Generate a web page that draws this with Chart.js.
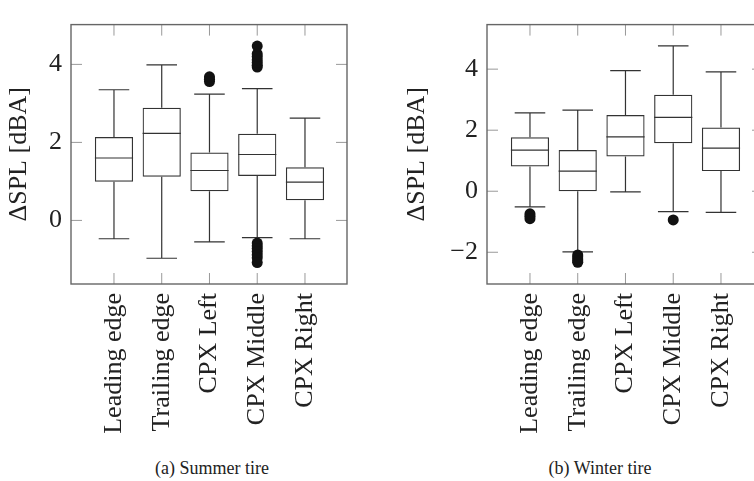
<!DOCTYPE html>
<html>
<head>
<meta charset="utf-8">
<script src="https://cdn.jsdelivr.net/npm/chart.js@4.4.1/dist/chart.umd.min.js"></script>
<style>
  html, body { margin: 0; padding: 0; background: #fff; width: 754px; height: 481px; overflow: hidden; }
  #wrapA { position: absolute; left: 0; top: 0; }
  #wrapB { position: absolute; left: 380px; top: 0; }
  .caption { position: absolute; top: 458px; font-family: "Liberation Serif", serif; font-size: 18px; color: #222; transform: translateX(-50%); white-space: nowrap; }
</style>
</head>
<body>
<div id="wrapA"><canvas id="chartA" width="360" height="450"></canvas></div>
<div id="wrapB"><canvas id="chartB" width="400" height="450"></canvas></div>
<div class="caption" style="left:212px">(a) Summer tire</div>
<div class="caption" style="left:600px">(b) Winter tire</div>
<script>
// categories
const categories = ['Leading edge', 'Trailing edge', 'CPX Left', 'CPX Middle', 'CPX Right'];

// summer tire (a)
const summerMin = [-0.47, -0.97, -0.55, -0.44, -0.47];
const summerQ1  = [0.99, 1.12, 0.75, 1.14, 0.52];
const summerMed = [1.60, 2.23, 1.28, 1.69, 0.98];
const summerQ3  = [2.14, 2.89, 1.74, 2.22, 1.36];
const summerMax = [3.35, 3.99, 3.24, 3.38, 2.62];
const summerOutliers = [
  [],
  [],
  [3.56, 3.62, 3.68],
  [3.93, 3.98, 4.05, 4.12, 4.20, 4.27, 4.47, -0.58, -0.65, -0.72, -0.80, -0.88, -0.96, -1.08],
  []
];
const summerTicks = [0, 2, 4];

// winter tire (b)
const winterMin = [-0.51, -1.99, -0.02, -0.67, -0.69];
const winterQ1  = [0.81, 0.00, 1.14, 1.57, 0.66];
const winterMed = [1.35, 0.66, 1.78, 2.42, 1.41];
const winterQ3  = [1.77, 1.35, 2.50, 3.16, 2.09];
const winterMax = [2.57, 2.66, 3.95, 4.76, 3.91];
const winterOutliers = [
  [-0.74, -0.82, -0.90],
  [-2.09, -2.15, -2.22, -2.28, -2.33],
  [],
  [-0.94],
  []
];
const winterTicks = [-2, 0, 2, 4];

const serif = "'Liberation Serif', 'Times New Roman', serif";

// whiskers, medians, frame and inward ticks
const boxExtras = {
  id: 'boxExtras',
  beforeDatasetsDraw(chart, args, opts) {
    const {ctx, scales: {y}} = chart;
    const bars = chart.getDatasetMeta(0).data;
    const s = opts.stats;
    ctx.save();
    ctx.strokeStyle = '#333';
    ctx.lineWidth = 1.2;
    ctx.beginPath();
    bars.forEach((bar, i) => {
      const half = bar.width * 0.4;
      const yMax = y.getPixelForValue(s.max[i]);
      const yMin = y.getPixelForValue(s.min[i]);
      ctx.moveTo(bar.x, y.getPixelForValue(s.q3[i]));
      ctx.lineTo(bar.x, yMax);
      ctx.moveTo(bar.x - half, yMax);
      ctx.lineTo(bar.x + half, yMax);
      ctx.moveTo(bar.x, y.getPixelForValue(s.q1[i]));
      ctx.lineTo(bar.x, yMin);
      ctx.moveTo(bar.x - half, yMin);
      ctx.lineTo(bar.x + half, yMin);
    });
    ctx.stroke();
    ctx.restore();
  },
  afterDatasetsDraw(chart, args, opts) {
    const {ctx, chartArea: a, scales: {x, y}} = chart;
    const bars = chart.getDatasetMeta(0).data;
    const s = opts.stats;
    ctx.save();
    ctx.strokeStyle = '#333';
    ctx.lineWidth = 1.2;
    ctx.beginPath();
    bars.forEach((bar, i) => {
      const ym = y.getPixelForValue(s.med[i]);
      ctx.moveTo(bar.x - bar.width / 2, ym);
      ctx.lineTo(bar.x + bar.width / 2, ym);
    });
    ctx.stroke();

    // inward ticks
    const tl = 11;
    ctx.strokeStyle = '#999';
    ctx.lineWidth = 1;
    ctx.beginPath();
    y.ticks.forEach(t => {
      const py = y.getPixelForValue(t.value);
      ctx.moveTo(a.left, py); ctx.lineTo(a.left + tl, py);
      ctx.moveTo(a.right, py); ctx.lineTo(a.right - tl, py);
    });
    x.ticks.forEach(t => {
      const px = x.getPixelForValue(t.value);
      ctx.moveTo(px, a.top); ctx.lineTo(px, a.top + tl);
      ctx.moveTo(px, a.bottom); ctx.lineTo(px, a.bottom - tl);
    });
    ctx.stroke();

    // frame
    ctx.strokeStyle = '#666';
    ctx.lineWidth = 1.4;
    ctx.strokeRect(a.left, a.top, a.right - a.left, a.bottom - a.top);
    ctx.restore();
  }
};

function makeChart(id, stats, outliers, yTicks, yMin, yMax, yWidth, padRight, titlePad) {
  const boxes = categories.map((c, i) => ({x: i + 1, y: [stats.q1[i], stats.q3[i]]}));
  const dots = outliers.flatMap((arr, i) => arr.map(v => ({x: i + 1, y: v})));

  return new Chart(document.getElementById(id), {
    type: 'bar',
    data: {
      datasets: [{
        data: boxes,
        backgroundColor: 'rgba(255,255,255,0)',
        borderColor: '#333',
        borderWidth: 1.2,
        borderSkipped: false,
        categoryPercentage: 1.0,
        barPercentage: 0.8
      }, {
        type: 'scatter',
        data: dots,
        pointRadius: 5.5,
        pointBackgroundColor: '#111',
        pointBorderColor: '#111',
        pointBorderWidth: 0
      }]
    },
    options: {
      responsive: false,
      animation: false,
      layout: {padding: {top: 8, right: padRight, left: 0, bottom: 0}},
      plugins: {
        legend: {display: false},
        tooltip: {enabled: false},
        boxExtras: {stats: stats}
      },
      scales: {
        x: {
          type: 'linear',
          offset: false,
          min: 0.1,
          max: 5.88,
          grid: {display: false, drawTicks: false, tickLength: 0, offset: false},
          border: {display: false},
          afterBuildTicks: scale => { scale.ticks = categories.map((c, i) => ({value: i + 1})); },
          afterFit: scale => { scale.height = 166; },
          ticks: {
            autoSkip: false,
            minRotation: 90,
            maxRotation: 90,
            padding: 9,
            color: '#222',
            font: {family: serif, size: 26},
            callback: v => categories[v - 1]
          }
        },
        y: {
          min: yMin,
          max: yMax,
          grid: {display: false, drawTicks: false, tickLength: 0},
          border: {display: false},
          afterBuildTicks: scale => { scale.ticks = yTicks.map(v => ({value: v})); },
          afterFit: scale => { scale.width = yWidth; },
          ticks: {
            padding: 9,
            color: '#222',
            font: {family: serif, size: 26},
            callback: v => v < 0 ? '\u2212' + Math.abs(v) : String(v)
          },
          title: {
            display: true,
            text: 'ΔSPL [dBA]',
            color: '#222',
            font: {family: serif, size: 26},
            padding: {top: titlePad, bottom: 0}
          }
        }
      }
    },
    plugins: [boxExtras]
  });
}

makeChart('chartA',
  {min: summerMin, q1: summerQ1, med: summerMed, q3: summerQ3, max: summerMax},
  summerOutliers, summerTicks, -1.63, 5.02, 71, 13, 4);

makeChart('chartB',
  {min: winterMin, q1: winterQ1, med: winterMed, q3: winterQ3, max: winterMax},
  winterOutliers, winterTicks, -3.04, 5.46, 107, 17, 22);
</script>
</body>
</html>
